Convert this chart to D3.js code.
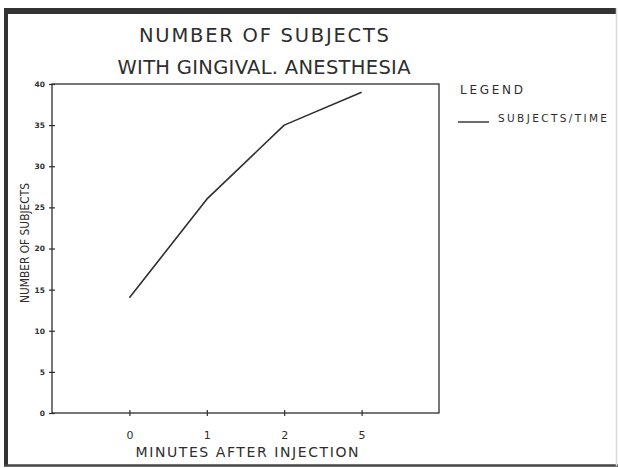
<!DOCTYPE html>
<html><head><meta charset="utf-8">
<script src="https://cdn.jsdelivr.net/npm/d3@7"></script>
<style>body{margin:0;background:#fff}svg{display:block}</style>
</head><body>
<script>
const categories = ["0", "1", "2", "5"];
const values = [14, 26, 35, 39];
const yTicks = [0, 5, 10, 15, 20, 25, 30, 35, 40];
const titleLines = ["NUMBER OF SUBJECTS", "WITH GINGIVAL. ANESTHESIA"];
const xTitle = "MINUTES AFTER INJECTION";
const yTitle = "NUMBER OF SUBJECTS";
const legendTitle = "LEGEND";
const seriesName = "SUBJECTS/TIME";

(function () {
const W = 618, H = 468;
const svg = d3.select("body").append("svg").attr("width", W).attr("height", H);
const ink = "#2e2e2e";

// frame
svg.append("line").attr("x1", 4).attr("x2", 616).attr("y1", 11).attr("y2", 11).attr("stroke", "#333").attr("stroke-width", 6);
svg.append("line").attr("x1", 6).attr("x2", 6).attr("y1", 8).attr("y2", 466).attr("stroke", "#333").attr("stroke-width", 4);
svg.append("line").attr("x1", 4).attr("x2", 618).attr("y1", 465.5).attr("y2", 465.5).attr("stroke", "#444").attr("stroke-width", 2.5);
svg.append("line").attr("x1", 616.5).attr("x2", 616.5).attr("y1", 8).attr("y2", 466).attr("stroke", "#d8d8d8").attr("stroke-width", 1.5);

const pL = 52, pR = 439, pT = 84, pB = 413;
const x = d3.scalePoint().domain(categories).range([pL, pR]).padding(1);
const y = d3.scaleLinear().domain([0, 40]).range([pB, pT]);

// title
const titleLens = [250, 293];
svg.append("g").selectAll("text").data(titleLines).join("text")
  .attr("x", 264).attr("y", (d, i) => 42 + i * 32)
  .attr("text-anchor", "middle").attr("font-family", "DejaVu Sans").attr("font-size", 19.5)
  .attr("textLength", (d, i) => titleLens[i]).attr("lengthAdjust", "spacing")
  .attr("fill", ink).text(d => d);

// plot box
svg.append("rect").attr("x", pL).attr("y", pT).attr("width", pR - pL).attr("height", pB - pT)
  .attr("fill", "none").attr("stroke", ink).attr("stroke-width", 1.3);

// y axis
const ya = svg.append("g").attr("transform", `translate(${pL},0)`)
  .call(d3.axisLeft(y).tickValues(yTicks).tickSize(3).tickPadding(4));
ya.select(".domain").remove();
ya.selectAll(".tick line").attr("x2", 3).attr("x1", -3).attr("stroke", ink).attr("stroke-width", 1.2);
ya.selectAll(".tick text").attr("font-family", "DejaVu Sans").attr("font-weight", "bold")
  .attr("font-size", 7.5).attr("fill", ink);

// x axis
const xa = svg.append("g").attr("transform", `translate(0,${pB})`)
  .call(d3.axisBottom(x).tickSize(3).tickPadding(15));
xa.select(".domain").remove();
xa.selectAll(".tick line").attr("y1", -3).attr("y2", 3).attr("stroke", ink).attr("stroke-width", 1.2);
xa.selectAll(".tick text").attr("font-family", "DejaVu Sans").attr("font-size", 11).attr("fill", ink);

// axis titles
svg.append("text").attr("x", 247).attr("y", 457).attr("text-anchor", "middle")
  .attr("font-family", "DejaVu Sans").attr("font-size", 14).attr("textLength", 223).attr("lengthAdjust", "spacing")
  .attr("fill", ink).text(xTitle);
svg.append("text").attr("transform", "translate(29,243) rotate(-90)").attr("text-anchor", "middle")
  .attr("font-family", "DejaVu Sans Condensed, DejaVu Sans").attr("font-stretch", "condensed")
  .attr("font-size", 12).attr("textLength", 120).attr("lengthAdjust", "spacingAndGlyphs")
  .attr("fill", ink).text(yTitle);

// line
const line = d3.line().x((d, i) => x(categories[i])).y(d => y(d));
svg.append("path").datum(values).attr("d", line).attr("fill", "none")
  .attr("stroke", ink).attr("stroke-width", 1.6).attr("stroke-linejoin", "round");

// legend
svg.append("text").attr("x", 460).attr("y", 94).attr("font-family", "DejaVu Sans")
  .attr("font-size", 12).attr("textLength", 63).attr("lengthAdjust", "spacing").attr("fill", ink).text(legendTitle);
svg.append("line").attr("x1", 458).attr("x2", 489).attr("y1", 122).attr("y2", 122)
  .attr("stroke", ink).attr("stroke-width", 1.4);
svg.append("text").attr("x", 498).attr("y", 122).attr("font-family", "DejaVu Sans")
  .attr("font-size", 10.5).attr("textLength", 109).attr("lengthAdjust", "spacing").attr("fill", ink).text(seriesName);
})();
</script>
</body></html>
